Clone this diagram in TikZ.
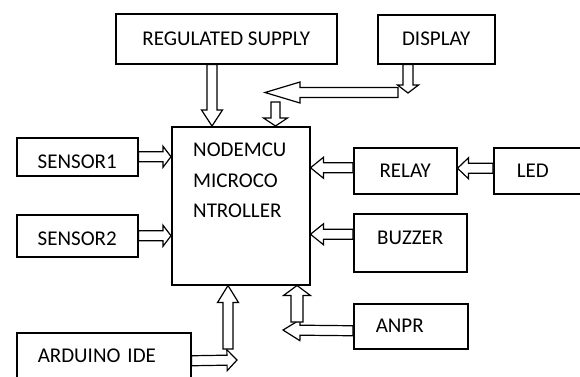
\documentclass[tikz,border=0pt]{standalone}
\usepackage{fontspec}
\setmainfont{Carlito}
\usetikzlibrary{calc}

% demi-largeurs des fleches creuses (tige / tete)
\def\shw{5}
\def\hhw{10.5}
% \blockarrow[longueur tete]{depart}{pointe}
\newcommand{\blockarrow}[3][10]{%
  \path (#2) coordinate (ba-a);
  \path (#3) coordinate (ba-b);
  \path ($(ba-b)!#1pt!(ba-a)$) coordinate (ba-c);
  \draw[barrow] ($(ba-a)!\shw pt!90:(ba-b)$) -- ($(ba-c)!\shw pt!-90:(ba-a)$)
    -- ($(ba-c)!\hhw pt!-90:(ba-a)$) -- (ba-b) -- ($(ba-c)!\hhw pt!90:(ba-a)$)
    -- ($(ba-c)!\shw pt!90:(ba-a)$) -- ($(ba-a)!\shw pt!-90:(ba-b)$) -- cycle;
}

\begin{document}
\begin{tikzpicture}[x=1pt, y=-1pt,
  box/.style={draw, line width=1.5pt, anchor=north west, inner sep=0pt,
    font=\fontsize{21}{25}\selectfont},
  barrow/.style={fill=white, line width=1.2pt, line join=miter}]
\useasboundingbox (0,0) rectangle (580,376);
\clip (0,0) rectangle (580,376);

% les blocs
\node[box, minimum width=221pt, minimum height=50pt] (sup) at (115,13) {REGULATED SUPPLY};
\node[box, minimum width=117pt, minimum height=49pt] (disp) at (377,14) {DISPLAY};
\node[box, minimum width=138pt, minimum height=158pt] (main) at (171,126) {};
\node[anchor=north west, inner sep=0pt, align=left,
  font=\fontsize{21}{30.5}\selectfont] (mtxt) at ($(main.north west)+(22,17)$)
  {NODEMCU\\MICROCO\\NTROLLER};
\node[box, minimum width=121pt, minimum height=38pt, text height=23.5pt] (s1) at (16,137) {SENSOR1};
\node[box, minimum width=121pt, minimum height=42pt, text height=20.5pt] (s2) at (16,214) {SENSOR2};
\node[box, minimum width=103pt, minimum height=46pt] (relay) at (353,147) {RELAY};
\node[box, minimum width=90pt, minimum height=46pt, text width=44pt, align=left] (led) at (493,147) {LED};
\node[box, minimum width=113pt, minimum height=58pt, text depth=9pt] (buzzer) at (353,213) {BUZZER};
\node[box, minimum width=114pt, minimum height=45pt, text width=70pt, align=left] (anpr) at (353,303) {ANPR};
\node[box, minimum width=174pt, minimum height=47pt, text width=132pt, align=left] (ard) at (16,332) {ARDUINO IDE};

% points libres des fleches
\coordinate (dtip) at (408,93);
\coordinate (dbend) at (398,92.5);
\coordinate (dleft) at (265,92.5);
\coordinate (dtop) at (275.5,102);
\coordinate (rl) at ($(relay.west)+(0,-3)$);
\coordinate (ld) at ($(led.west)+(0,-2.5)$);
\coordinate (bz) at ($(buzzer.west)+(0,-8.5)$);
\coordinate (ar) at ($(ard.east)+(0,4.5)$);
\coordinate (arend) at (237,360);
\coordinate (arup) at (228,349);
\coordinate (an) at ($(anpr.west)+(0,4.5)$);
\coordinate (anend) at (283,330);
\coordinate (anup) at (297,322);

% les fleches
\blockarrow[16]{sup.south -| 212,0}{main.north -| 212,0}
\blockarrow[8]{disp.south -| dtip}{dtip}
\blockarrow[35]{dbend}{dleft}
{\def\shw{4.5}\def\hhw{12}\blockarrow[8]{dtop}{main.north -| dtop}}
\blockarrow[8]{s1.east}{main.west |- s1.east}
\blockarrow[8]{s2.east}{main.west |- s2.east}
\blockarrow[13]{rl}{main.east |- rl}
\blockarrow[11]{ld}{relay.east |- ld}
\blockarrow[13]{bz}{main.east |- bz}
\blockarrow[10]{ar}{arend}
\blockarrow[17]{arup}{main.south -| arup}
\blockarrow[17]{an}{anend}
{\def\shw{6}\def\hhw{13.5}\blockarrow[10]{anup}{main.south -| anup}}
\end{tikzpicture}
\end{document}
